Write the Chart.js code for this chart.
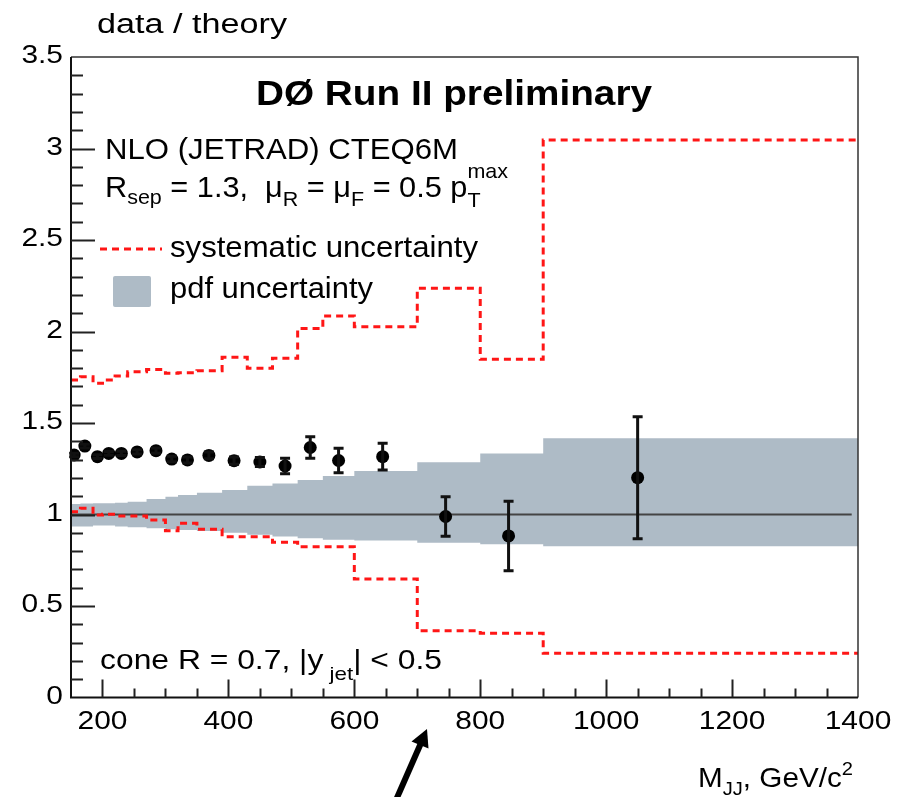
<!DOCTYPE html>
<html>
<head>
<meta charset="utf-8">
<script src="https://cdn.jsdelivr.net/npm/chart.js@4.4.0/dist/chart.umd.min.js"></script>
<style>
  html, body { margin: 0; padding: 0; background: #fff; }
  #wrap { width: 908px; height: 797px; }
</style>
</head>
<body>
<div id="wrap"><canvas id="chart" width="908" height="797"></canvas></div>
<script>
// dijet mass bins, GeV/c^2
var binEdges = [150, 165, 185, 200, 220, 240, 270, 300, 320, 350, 390, 430, 470, 510, 550, 600, 700, 800, 900, 1400];

// measured data / theory ratio
var massPoints = [155, 172, 192, 210, 230, 255, 285, 310, 335, 369, 409, 450, 490, 530, 575, 645, 745, 845, 1050];
var ratio    = [1.325, 1.374, 1.316, 1.334, 1.334, 1.342, 1.349, 1.303, 1.298, 1.323, 1.294, 1.287, 1.265, 1.366, 1.295, 1.316, 0.989, 0.883, 1.201];
var ratioErr = [0.010, 0.010, 0.010, 0.010, 0.012, 0.012, 0.014, 0.015, 0.016, 0.018, 0.020, 0.025, 0.043, 0.059, 0.067, 0.073, 0.108, 0.190, 0.333];

// systematic uncertainty band edges, per bin
var sysUp   = [1.735, 1.753, 1.717, 1.735, 1.757, 1.780, 1.793, 1.772, 1.775, 1.786, 1.859, 1.799, 1.854, 2.017, 2.085, 2.026, 2.236, 1.848, 3.046];
var sysDown = [1.015, 1.034, 0.997, 1.001, 0.992, 0.992, 0.970, 0.911, 0.952, 0.919, 0.879, 0.879, 0.848, 0.824, 0.824, 0.648, 0.365, 0.351, 0.242];

// pdf uncertainty band, per bin
var pdfUp   = [1.057, 1.060, 1.061, 1.061, 1.064, 1.070, 1.085, 1.097, 1.107, 1.119, 1.134, 1.157, 1.170, 1.189, 1.210, 1.238, 1.285, 1.334, 1.416];
var pdfDown = [0.935, 0.935, 0.940, 0.940, 0.935, 0.930, 0.925, 0.920, 0.915, 0.910, 0.900, 0.890, 0.880, 0.870, 0.862, 0.858, 0.845, 0.838, 0.826];

var yTickLabels = ['0', '0.5', '1', '1.5', '2', '2.5', '3', '3.5'];
var xTickLabels = ['200', '400', '600', '800', '1000', '1200', '1400'];

var RED = 'rgb(255,22,22)';
var BAND = '#aebbc6';
var FONT = '"Liberation Sans", Arial, Helvetica, sans-serif';

// histogram values -> points for a stepped line (last bin closed at the upper edge)
function stepData(values) {
    var out = values.map(function (v, i) { return {x: binEdges[i], y: v}; });
    out.push({x: binEdges[binEdges.length - 1], y: values[values.length - 1]});
    return out;
}

var points = massPoints.map(function (m, i) { return {x: m, y: ratio[i]}; });

// text in pieces (sub/superscripts), squeezed or stretched to a given width
function richText(ctx, x, y, parts, width) {
    var cursor = 0, lastStart = 0, lastW = 0;
    var placed = parts.map(function (p) {
        ctx.font = (p.bold ? 'bold ' : '') + p.size + 'px ' + FONT;
        var w = ctx.measureText(p.t).width;
        var pos;
        if (p.stack) {
            pos = lastStart;
            cursor = Math.max(cursor, lastStart + w);
        } else {
            pos = cursor;
            lastStart = cursor;
            cursor += w;
        }
        lastW = w;
        return {p: p, pos: pos};
    });
    var sx = width ? width / cursor : 1;
    ctx.save();
    ctx.translate(x, y);
    ctx.scale(sx, 1);
    ctx.fillStyle = '#000';
    ctx.textAlign = 'left';
    ctx.textBaseline = 'alphabetic';
    placed.forEach(function (q) {
        ctx.font = (q.p.bold ? 'bold ' : '') + q.p.size + 'px ' + FONT;
        ctx.fillText(q.p.t, q.pos, q.p.dy || 0);
    });
    ctx.restore();
}

function label(ctx, text, x, y, align, sx) {
    ctx.save();
    ctx.translate(x, y);
    ctx.scale(sx, 1);
    ctx.font = '26px ' + FONT;
    ctx.fillStyle = '#000';
    ctx.textAlign = align;
    ctx.textBaseline = 'alphabetic';
    ctx.fillText(text, 0, 0);
    ctx.restore();
}

var errorBars = {
    id: 'errorBars',
    afterDatasetDraw: function (chart, args) {
        if (chart.data.datasets[args.index].label !== 'data') return;
        var ctx = chart.ctx, xs = chart.scales.x, ys = chart.scales.y;
        ctx.save();
        ctx.strokeStyle = '#111';
        ctx.lineWidth = 3;
        massPoints.forEach(function (m, i) {
            var px = xs.getPixelForValue(m);
            var top = ys.getPixelForValue(ratio[i] + ratioErr[i]);
            var bot = ys.getPixelForValue(ratio[i] - ratioErr[i]);
            ctx.beginPath();
            ctx.moveTo(px, top); ctx.lineTo(px, bot);
            ctx.moveTo(px - 5, top); ctx.lineTo(px + 5, top);
            ctx.moveTo(px - 5, bot); ctx.lineTo(px + 5, bot);
            ctx.stroke();
        });
        ctx.restore();
    }
};

var frameAndText = {
    id: 'frameAndText',
    afterDraw: function (chart) {
        var ctx = chart.ctx, a = chart.chartArea;
        var xs = chart.scales.x, ys = chart.scales.y;
        ctx.save();

        // frame
        ctx.strokeStyle = '#333';
        ctx.lineWidth = 1.5;
        ctx.beginPath();
        ctx.moveTo(a.left, a.top); ctx.lineTo(a.right, a.top); ctx.lineTo(a.right, a.bottom);
        ctx.stroke();
        ctx.strokeStyle = '#111';
        ctx.lineWidth = 2;
        ctx.beginPath();
        ctx.moveTo(a.left, a.top); ctx.lineTo(a.left, a.bottom); ctx.lineTo(a.right, a.bottom);
        ctx.stroke();

        // inward ticks
        ctx.strokeStyle = '#222';
        ctx.lineWidth = 2;
        ctx.beginPath();
        for (var i = 1; i < 35; i++) {
            var py = Math.round(ys.getPixelForValue(i / 10)) + 0.5;
            var len = (i % 5 === 0) ? 24 : 12;
            ctx.moveTo(a.left, py); ctx.lineTo(a.left + len, py);
        }
        for (var v = 200; v < 1400; v += 50) {
            var px = Math.round(xs.getPixelForValue(v)) + 0.5;
            var l2 = (v % 200 === 0) ? 18 : 9;
            ctx.moveTo(px, a.bottom); ctx.lineTo(px, a.bottom - l2);
        }
        ctx.stroke();

        // tick labels
        yTickLabels.forEach(function (t) {
            label(ctx, t, 63, ys.getPixelForValue(parseFloat(t)) + 6, 'right', 1.15);
        });
        xTickLabels.forEach(function (t) {
            label(ctx, t, xs.getPixelForValue(parseFloat(t)), 729, 'center', 1.15);
        });

        // axis titles
        richText(ctx, 97, 33, [{t: 'data / theory', size: 27}], 190);
        richText(ctx, 698, 787, [
            {t: 'M', size: 28},
            {t: 'JJ', size: 19, dy: 8},
            {t: ', GeV/c', size: 28},
            {t: '2', size: 19, dy: -12}
        ], 155);

        // headline and theory description
        richText(ctx, 256, 105, [{t: 'DØ Run II preliminary', size: 35, bold: true}], 396);
        richText(ctx, 105, 159, [{t: 'NLO (JETRAD) CTEQ6M', size: 30}], 353);
        richText(ctx, 105, 197, [
            {t: 'R', size: 30},
            {t: 'sep', size: 21, dy: 7},
            {t: ' = 1.3,  ', size: 30},
            {t: 'μ', size: 30},
            {t: 'R', size: 21, dy: 9},
            {t: ' = ', size: 30},
            {t: 'μ', size: 30},
            {t: 'F', size: 21, dy: 9},
            {t: ' = 0.5 ', size: 30},
            {t: 'p', size: 30},
            {t: 'T', size: 21, dy: 10},
            {t: 'max', size: 21, dy: -19, stack: true}
        ], 403);
        richText(ctx, 100, 669, [
            {t: 'cone R = 0.7, |y', size: 27},
            {t: ' jet', size: 19, dy: 11},
            {t: '| < 0.5', size: 27}
        ], 342);

        // legend
        ctx.strokeStyle = RED;
        ctx.lineWidth = 3;
        ctx.setLineDash([7, 5]);
        ctx.beginPath();
        ctx.moveTo(100, 249); ctx.lineTo(162, 249);
        ctx.stroke();
        ctx.setLineDash([]);
        richText(ctx, 170, 257, [{t: 'systematic uncertainty', size: 30}], 308);
        ctx.fillStyle = BAND;
        ctx.beginPath();
        ctx.roundRect(113, 276, 38, 31, 2);
        ctx.fill();
        richText(ctx, 170, 298, [{t: 'pdf uncertainty', size: 30}], 203);

        // arrow under the axis
        ctx.strokeStyle = '#000';
        ctx.fillStyle = '#000';
        ctx.lineWidth = 6;
        ctx.beginPath();
        ctx.moveTo(396, 800); ctx.lineTo(421, 743);
        ctx.stroke();
        ctx.beginPath();
        ctx.moveTo(427, 729); ctx.lineTo(411.5, 741.5); ctx.lineTo(428.5, 748.5);
        ctx.closePath();
        ctx.fill();

        ctx.restore();
    }
};

var ctx = document.getElementById('chart').getContext('2d');

var chart = new Chart(ctx, {
    type: 'line',
    data: {
        datasets: [
            {
                label: 'data',
                type: 'scatter',
                data: points,
                pointRadius: 6.5,
                pointBackgroundColor: '#000',
                pointBorderWidth: 0,
                order: 0
            },
            {
                label: 'sys up',
                data: stepData(sysUp),
                stepped: true,
                borderColor: RED,
                borderWidth: 3,
                borderDash: [7, 5],
                pointRadius: 0,
                fill: false,
                order: 1
            },
            {
                label: 'sys down',
                data: stepData(sysDown),
                stepped: true,
                borderColor: RED,
                borderWidth: 3,
                borderDash: [7, 5],
                pointRadius: 0,
                fill: false,
                order: 1
            },
            {
                label: 'unity',
                data: [{x: 150, y: 1}, {x: 1390, y: 1}],
                borderColor: '#444',
                borderWidth: 2,
                pointRadius: 0,
                fill: false,
                order: 2
            },
            {
                label: 'pdf down',
                data: stepData(pdfDown),
                stepped: true,
                borderColor: 'rgba(0,0,0,0)',
                borderWidth: 1,
                pointRadius: 0,
                fill: false,
                order: 3
            },
            {
                label: 'pdf up',
                data: stepData(pdfUp),
                stepped: true,
                borderColor: 'rgba(0,0,0,0)',
                borderWidth: 1,
                backgroundColor: BAND,
                pointRadius: 0,
                fill: '-1',
                order: 3
            }
        ]
    },
    options: {
        responsive: false,
        animation: false,
        layout: {padding: {left: 71, top: 57, right: 50, bottom: 99.5}},
        scales: {
            x: {type: 'linear', min: 150, max: 1400, display: false},
            y: {type: 'linear', min: 0, max: 3.5, display: false}
        },
        plugins: {
            legend: {display: false},
            tooltip: {enabled: false}
        }
    },
    plugins: [errorBars, frameAndText]
});
</script>
</body>
</html>
